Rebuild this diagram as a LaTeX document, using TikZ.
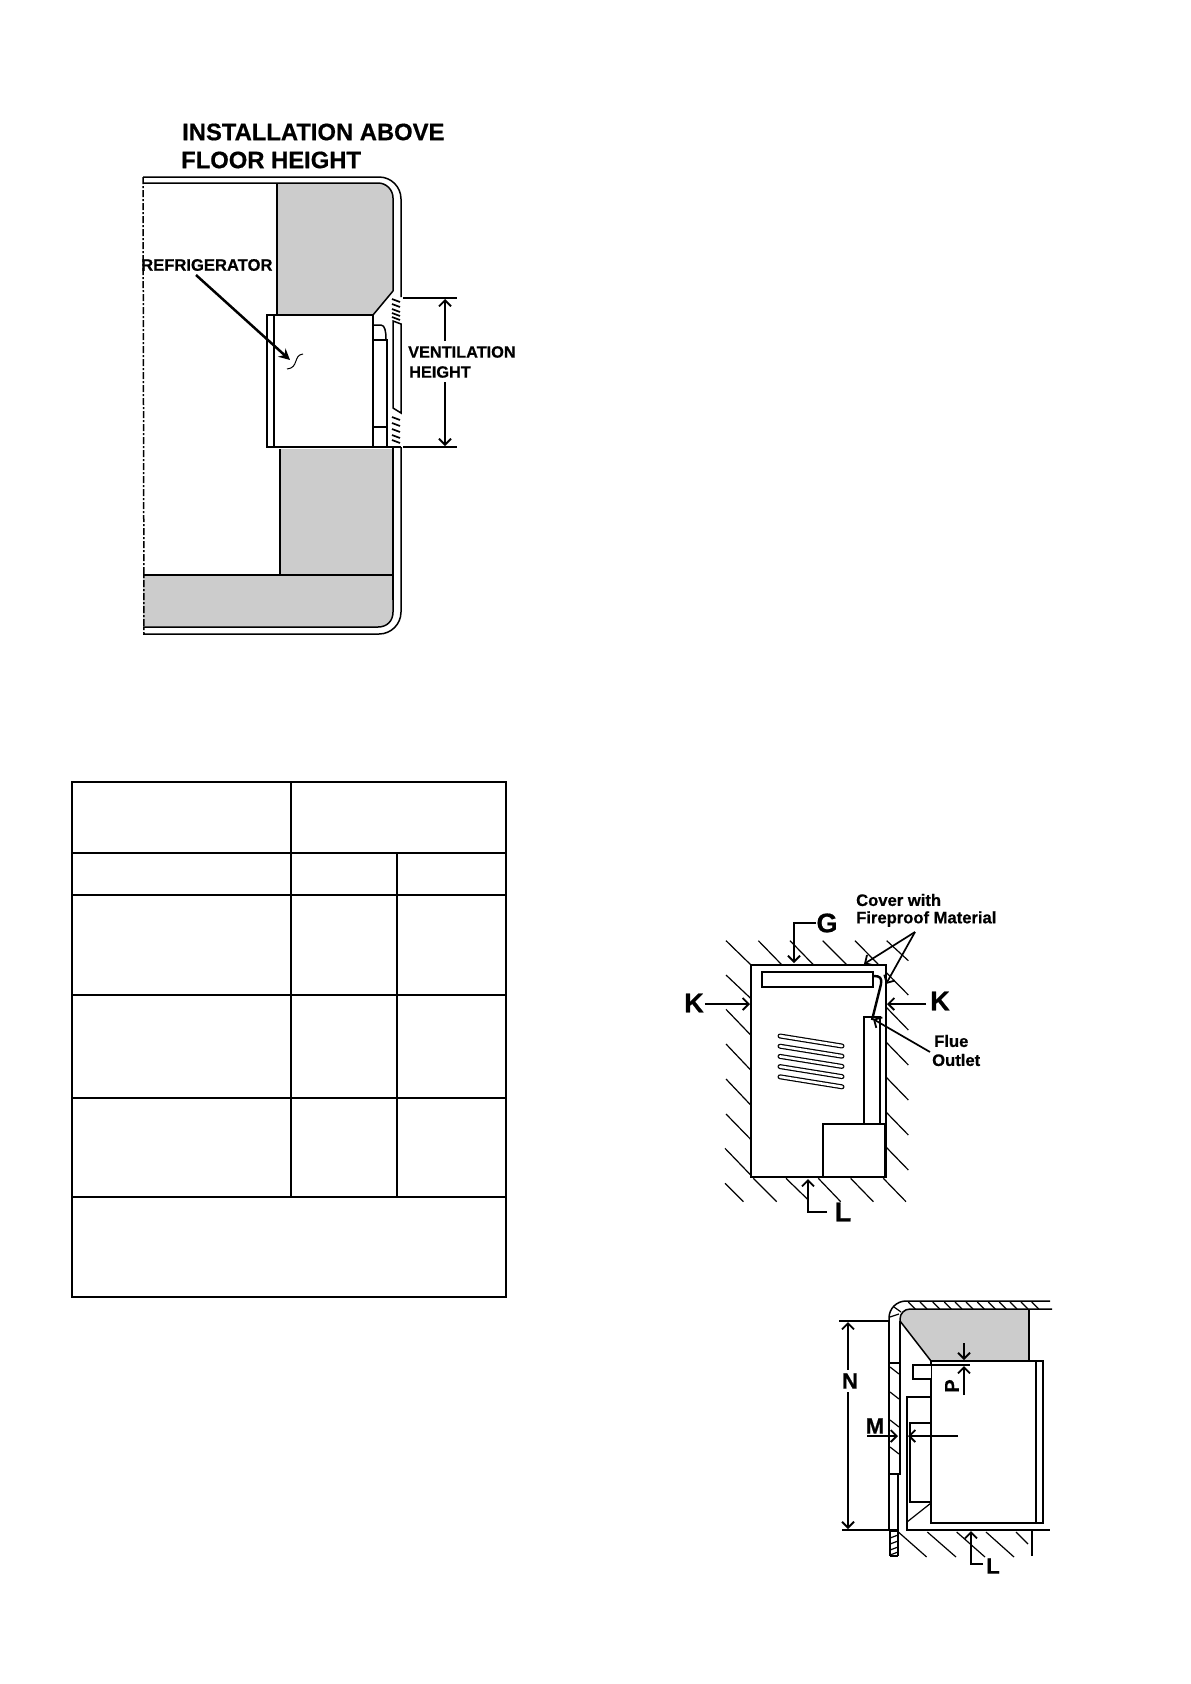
\documentclass[tikz,border=0pt]{standalone}
\usepackage{fontspec}
\setmainfont[BoldFeatures={FakeBold=0.6}]{Liberation Sans}
\usetikzlibrary{arrows.meta}
\definecolor{fillgray}{gray}{0.8}
\tikzset{
  wall/.style={line width=1.5pt,black},
  thickl/.style={line width=2pt,black},
  hatch/.style={line width=1.2pt,black},
  barb/.style={line width=1.7pt,-{Straight Barb[length=6pt,width=12pt,line width=1.8pt]}},
  lbl/.style={font=\bfseries\fontsize{16.6}{18}\selectfont,inner sep=0pt,anchor=west},
  big/.style={font=\bfseries\fontsize{27}{30}\selectfont,inner sep=0pt},
  mid/.style={font=\bfseries\fontsize{22}{24}\selectfont,inner sep=0pt},
  ttl/.style={font=\bfseries\fontsize{23.8}{26}\selectfont,inner sep=0pt,anchor=west},
  cell/.style={line width=1.6pt,black},
}
\begin{document}
\begin{tikzpicture}[x=1pt,y=-1pt]
\useasboundingbox (0,0) rectangle (1191,1684);
\fill[white] (0,0) rectangle (1191,1684);
%% ---------- Diagram 1
\node[ttl] (t1) at (182,132) {INSTALLATION ABOVE};
\node[ttl] (t2) at (181,160) {FLOOR HEIGHT};
% grey blocks
\fill[fillgray] (277,183) -- (378,183) .. controls (387,183) and (393,189) .. (393,198) -- (393,291) -- (373,315) -- (277,315) -- cycle;
\fill[fillgray] (280,449) rectangle (393,575);
\fill[fillgray] (143,575) -- (393,575) -- (393,612) .. controls (393,621) and (387,627) .. (378,627) -- (143,627) -- cycle;
% outer wall
\draw[wall,rounded corners=22pt] (143,177) -- (401,177) -- (401,297);
\draw[wall,rounded corners=15pt] (143,183) -- (393,183) -- (393,291);
\draw[wall] (393,291) -- (373,315);
\draw[thickl] (277,183) -- (277,315);
\draw[thickl] (373,315) -- (267,315) -- (267,447) -- (388,447);
\draw[wall] (274,315) -- (274,447);
\draw[wall] (373,315) -- (373,447);
\draw[wall] (280,449) -- (280,575);
\draw[thickl] (143,575) -- (393,575);
\draw[thickl] (393,447) -- (393,600);
\draw[wall] (393,600) -- (393,612) .. controls (393,621) and (387,627) .. (378,627) -- (143,627);
\draw[wall,rounded corners=22pt] (401,447) -- (401,634) -- (143,634);
\draw[wall] (393,447) -- (401,447);
\draw[wall,dash pattern=on 7pt off 2pt on 2pt off 2pt] (143,177) -- (144,634);
% flue
\draw[wall] (373,340) -- (387,340) -- (387,448);
\draw[wall] (373,427) -- (387,427);
\draw[wall] (373,325) -- (381,325) .. controls (385,325) and (386,332) .. (386,339);
\draw[wall] (388,447) -- (393,447);
% slot
\draw[wall] (393,321) -- (401,324) -- (401,413) -- (393,408) -- cycle;
% hatches
\foreach \y in {299,304,309,313,317}{\draw[line width=1.7pt] (392,\y) -- (400,\y+3);}
\foreach \y in {417,423,429,435,440}{\draw[line width=1.7pt] (392,\y) -- (400,\y+3);}
% labels
\node[lbl] (ref) at (141,265) {REFRIGERATOR};
\coordinate (reftip) at (290,360);
\coordinate (reftail) at (196,275);
\draw[line width=2.5pt,-{Stealth[length=11pt,width=11pt]}] (reftail) -- (reftip);
\draw[line width=1pt] (287,369) .. controls (299,368) and (293,355) .. (303,354);
\node[lbl,font=\bfseries\fontsize{16.3}{18}\selectfont] (vent) at (408,352) {VENTILATION};
\node[lbl,font=\bfseries\fontsize{16.3}{18}\selectfont] (hgt) at (409,372) {HEIGHT};
\coordinate (d1a) at (403,298); \coordinate (d1b) at (457,298);
\coordinate (d2a) at (403,447); \coordinate (d2b) at (457,447);
\draw[line width=1.1pt] (d1a) -- (d1b);
\draw[line width=1.1pt] (d2a) -- (d2b);
\draw[barb,line width=1.2pt] (445,341) -- (445,299);
\draw[barb,line width=1.2pt] (445,382) -- (445,446);
%% ---------- Table
\draw[cell] (72,782) rectangle (506,1297);
\draw[cell] (72,853) -- (506,853);
\draw[cell] (72,895) -- (506,895);
\draw[cell] (72,995) -- (506,995);
\draw[cell] (72,1098) -- (506,1098);
\draw[cell] (72,1197) -- (506,1197);
\draw[cell] (291,782) -- (291,1197);
\draw[cell] (397,853) -- (397,1197);
%% ---------- Diagram 2
\foreach \a/\b/\c/\d in {
 198/212/272/284, 295/212/365/284, 390/212/460/284, 488/212/560/284,
 585/212/745/375, 680/212/745/272,
 198/315/272/385, 198/418/272/495, 198/522/272/600, 198/627/272/705,
 198/732/272/808, 195/835/272/915, 195/940/250/995,
 677/410/745/480, 677/515/745/585, 677/620/745/690, 677/725/745/795, 677/830/745/900,
 280/925/350/995, 378/925/445/990, 475/925/542/995, 572/925/640/995, 670/925/738/995}{
  \draw[hatch] ({\a/3+660},{\b/3+870}) -- ({\c/3+660},{\d/3+870});
}
\draw[wall,fill=white] (751,965) rectangle (886,1177);
\draw[wall,fill=white] (762,972) rectangle (873,987);
\draw[wall,fill=white] (864,1017) rectangle (880,1124);
\draw[wall,fill=white] (823,1124) rectangle (885,1177);
\draw[line width=2.2pt] (751,1177) -- (823,1177);
\draw[line width=2.4pt] (874,976) .. controls (880,976) and (882,978) .. (881,984) -- (872,1020);
\foreach \i in {0,1,2,3,4}{
  \draw[line width=5pt,line cap=round] (780,{1036+\i*10.2}) -- (842,{1046+\i*10.2});
  \draw[line width=2.6pt,line cap=round,white] (780,{1036+\i*10.2}) -- (842,{1046+\i*10.2});
}
\node[big] (G) at (827,923) {G};
\coordinate (gm) at (794,923);
\draw[barb] (816,923) -- (gm) -- (794,963);
\node[big] (KL) at (694,1003) {K};
\draw[barb] (KL.east) ++(1,1) -- (750,1004);
\node[big] (KR) at (940,1001) {K};
\draw[barb] (926,1004) -- (887,1004);
\node[big] (LL) at (843,1212) {L};
\draw[barb] (827,1212) -- (808,1212) -- (808,1179);
\node[lbl] (c1) at (856,900) {Cover with};
\node[lbl] (c2) at (856,919) {Fireproof Material};
\coordinate (cv) at (915,932);
\draw[barb] (cv) -- (864,964);
\draw[barb] (cv) -- (886,984);
\node[lbl] (f1) at (934,1041) {Flue};
\node[lbl] (f2) at (932,1060) {Outlet};
\draw[barb] (930,1052) -- (873,1019);
%% ---------- Diagram 3
\fill[fillgray] (900,1321) .. controls (900,1315) and (903,1309) .. (910,1309) -- (1029,1309) -- (1029,1361) -- (931,1361) -- cycle;
\draw[wall,rounded corners=17pt] (889,1330) -- (889,1301) -- (1050,1301);
\draw[wall,rounded corners=10pt] (900,1322) -- (900,1309) -- (1052,1309);
\foreach \x in {265,300,338,373,405,438,472,505,538,570,603,635}{
  \draw[hatch] ({\x/3+820},1302) -- ({\x/3+7+820},1309);
}
\draw[hatch] (890,1317) -- (899,1314);
\draw[hatch] (894,1307) -- (901,1312);
\draw[wall] (889,1321) -- (889,1363);
\draw[wall] (900,1321) -- (900,1363);
\draw[wall] (900,1321) -- (931,1361);
\draw[wall] (1029,1309) -- (1029,1361);
% fridge
\draw[wall,fill=white] (931,1361) rectangle (1043,1523);
\draw[wall] (1036,1361) -- (1036,1523);
\draw[wall,fill=white] (931,1365) -- (913,1365) -- (913,1379) -- (931,1379);
\draw[wall] (931,1397) -- (907,1397) -- (907,1530) -- (1050,1530);
\draw[wall] (931,1423) -- (910,1423) -- (910,1502) -- (931,1502);
\draw[hatch] (907,1522) -- (931,1503);
% left wall slot
\draw[wall] (889,1363) rectangle (900,1474);
\draw[wall] (889,1475) -- (889,1530) -- (898,1530) -- (898,1475);
\draw[wall] (890,1531) -- (890,1556);
\draw[wall] (898,1531) -- (898,1556);
\draw[wall] (889,1531) -- (898,1531);
\foreach \y in {1367,1392,1420,1447}{\draw[hatch] (890,\y) -- (899,\y+7);}
\foreach \y in {1535,1541,1547,1552}{\draw[hatch] (890,\y+3) -- (898,\y);}
\draw[wall] (890,1556) -- (898,1556);
% bottom hatches
\foreach \a/\c in {235/320,322/408,410/495,498/582}{
  \draw[hatch] ({\a/3+820},1532) -- ({\c/3+820},1557);
}
\draw[hatch] (1016,1532) -- (1028,1544);
\draw[hatch] (1032,1531) -- (1032,1556);
% dims
\coordinate (na) at (839,1321); \coordinate (nb) at (889,1321);
\coordinate (nc) at (842,1530); \coordinate (nd) at (889,1530);
\draw[line width=1.1pt] (na) -- (nb);
\draw[line width=1.1pt] (nc) -- (nd);
\draw[line width=1.3pt,{Straight Barb[length=6pt,width=12pt,line width=1.8pt]}-{Straight Barb[length=6pt,width=12pt,line width=1.8pt]}] (848,1322) -- (848,1529);
\node[mid,fill=white,inner ysep=3pt] (N) at (850,1381) {N};
\node[mid] (M) at (875,1426) {M};
\draw[barb] (867,1436) -- (898,1436);
\draw[barb] (958,1436) -- (908,1436);
\draw[line width=1.1pt] (931,1365) -- (970,1365);
\draw[barb] (964,1343) -- (964,1360);
\draw[barb] (964,1395) -- (964,1366);
\node[mid,font=\bfseries\fontsize{20}{22}\selectfont,rotate=90] (P) at (952,1386) {P};
\node[mid] (L2) at (993,1566) {L};
\draw[barb] (983,1564) -- (971,1564) -- (971,1531);
\end{tikzpicture}
\end{document}
